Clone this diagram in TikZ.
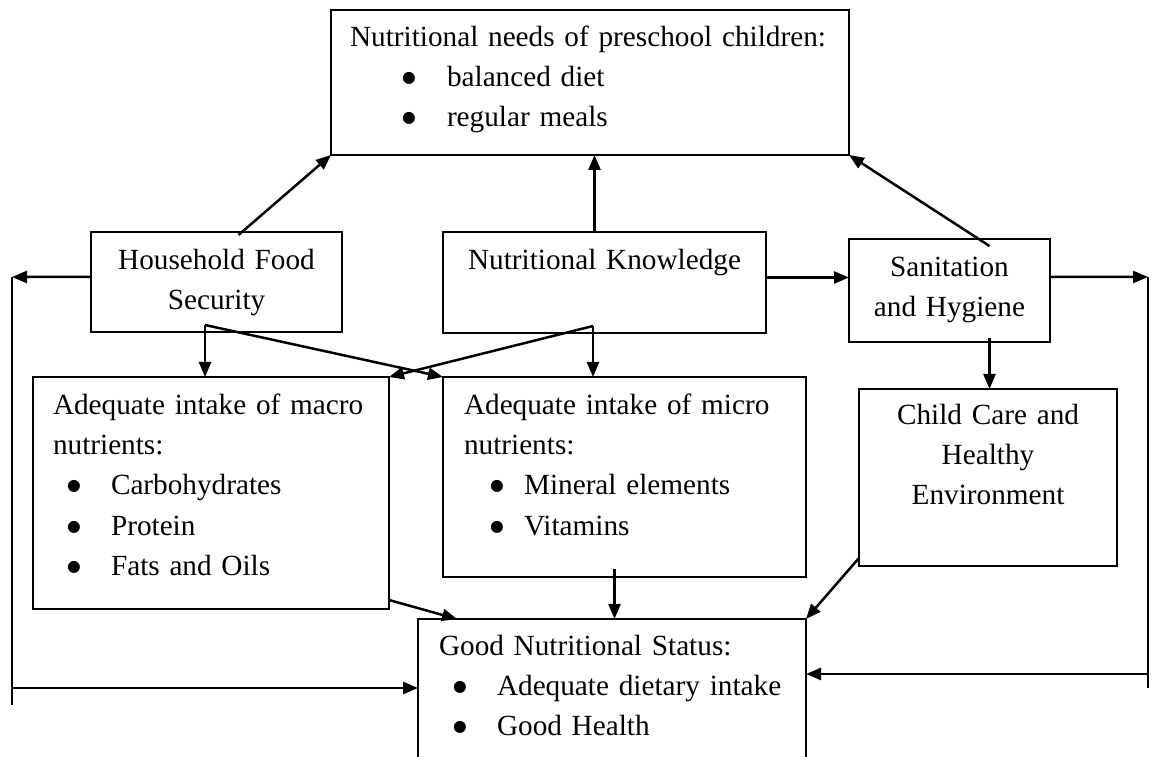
\documentclass[tikz,border=0pt]{standalone}
\usepackage{fontspec}
\setmainfont{Liberation Serif}
\newfontfamily\symfont{DejaVu Sans}
\usetikzlibrary{positioning,calc,arrows.meta}

\newcommand{\bul}[3]{\makebox[#2][l]{\hspace{#1}\raisebox{1.6pt}{\symfont\fontsize{6.3}{6.3}\selectfont ●}}#3}

\begin{document}
\begin{tikzpicture}[
				x=0.4pt, y=-0.4pt,
				font=\fontsize{11.7}{16}\selectfont,
				box/.style={draw, line width=0.8pt, anchor=north west, inner ysep=0pt, outer sep=0pt},
				lbox/.style={box, align=left},
				cbox/.style={box, align=center, inner xsep=2pt},
				arr/.style={line width=1pt, -{Triangle[length=6pt, width=4.8pt]}},
				wire/.style={line width=1pt}
				]
				\useasboundingbox (0,0) rectangle (1152,757);
				\clip (0,0) rectangle (1152,757);
				
				\node[lbox, inner xsep=7.6pt, text width=192pt, text height=14.8pt, text depth=43.2pt] (needs) at (331,10) {Nutritional needs of preschool children:\\ \bul{20.8pt}{38.8pt}{balanced diet}\\ \bul{20.8pt}{38.8pt}{regular meals}};
				\node[cbox, text width=96.4pt, text height=15.2pt, text depth=24.8pt] (hfs) at (91,232) {Household Food\\Security};
				\node[cbox, text width=125.2pt, text height=15.2pt, text depth=25.2pt] (nk) at (443,232) {Nutritional Knowledge};
				\node[cbox, text width=76.4pt, text height=15.2pt, text depth=26pt] (san) at (849,239) {Sanitation\\and Hygiene};
				\node[lbox, inner xsep=8pt, text width=126.4pt, text height=15.2pt, text depth=77.6pt] (macro) at (33,377) {\makebox[126pt][s]{Adequate intake of macro}\\nutrients:\\ \bul{5.6pt}{23.2pt}{Carbohydrates}\\ \bul{5.6pt}{23.2pt}{Protein}\\ \bul{5.6pt}{23.2pt}{Fats and Oils}};
				\node[lbox, inner xsep=8.4pt, text width=128.4pt, text height=15.2pt, text depth=64.8pt] (micro) at (443,377) {\makebox[128.4pt][s]{Adequate intake of micro}\\nutrients:\\ \bul{10.4pt}{24pt}{Mineral elements}\\ \bul{10.4pt}{24pt}{Vitamins}};
				\node[cbox, text width=99.2pt, text height=14.4pt, text depth=56.4pt] (child) at (859,389) {Child Care and\\Healthy\\Environment};
				\node[lbox, inner xsep=8.4pt, text width=138.4pt, text height=14.4pt, text depth=58pt] (gns) at (418,619) {Good Nutritional Status:\\ \bul{5.6pt}{23.2pt}{Adequate dietary intake}\\ \bul{5.6pt}{23.2pt}{Good Health}};
				
				% free ends
				\coordinate (nkup) at ([shift={(-10,0)}]nk.north);
				\coordinate (nkright) at ([shift={(0,-5)}]nk.east);
				\coordinate (hfsdown) at ([shift={(-11.5,-7)}]hfs.south);
				\coordinate (nkdown) at ([shift={(-11.5,-7)}]nk.south);
				\coordinate (sandown) at ([shift={(40,-4)}]san.south);
				\coordinate (microdown) at ([shift={(-10,-8)}]micro.south);
				\coordinate (lfttop) at (12,277);
				\coordinate (lftin) at (12,688);
				\coordinate (lftbot) at (12,705);
				\coordinate (rgttop) at (1148,277);
				\coordinate (rgtin) at (1148,674);
				\coordinate (rgtbot) at (1148,688);
				
				\draw[arr] ([shift={(22,3)}]hfs.north) -- (needs.south west);
				\draw[arr] (nkup) -- (nkup |- needs.south);
				\draw[arr] ([shift={(40,7)}]san.north) -- (needs.south east);
				\draw[arr] (nkright) -- (nkright -| san.west);
				
				\draw[arr] ([shift={(0,-5)}]hfs.west) -- (lfttop);
				\draw[wire] (lfttop) -- (lftbot);
				\draw[arr] (lftin) -- (lftin -| gns.west);
				\draw[arr] ([shift={(0,-13.5)}]san.east) -- (rgttop);
				\draw[wire] (rgttop) -- (rgtbot);
				\draw[arr] (rgtin) -- (rgtin -| gns.east);
				
				\draw[arr] (hfsdown) -- (hfsdown |- macro.north);
				\draw[arr] (hfsdown) -- (micro.north west);
				\draw[arr] (nkdown) -- (nkdown |- micro.north);
				\draw[arr] (nkdown) -- (macro.north east);
				\draw[arr] (sandown) -- (sandown |- child.north);
				
				\draw[arr] ([shift={(0,-9)}]macro.south east) -- ([shift={(39,0)}]gns.north west);
				\draw[arr] (microdown) -- (microdown |- gns.north);
				\draw[arr] ([shift={(0,-8)}]child.south west) -- (gns.north east);
			\end{tikzpicture}
\end{document}
